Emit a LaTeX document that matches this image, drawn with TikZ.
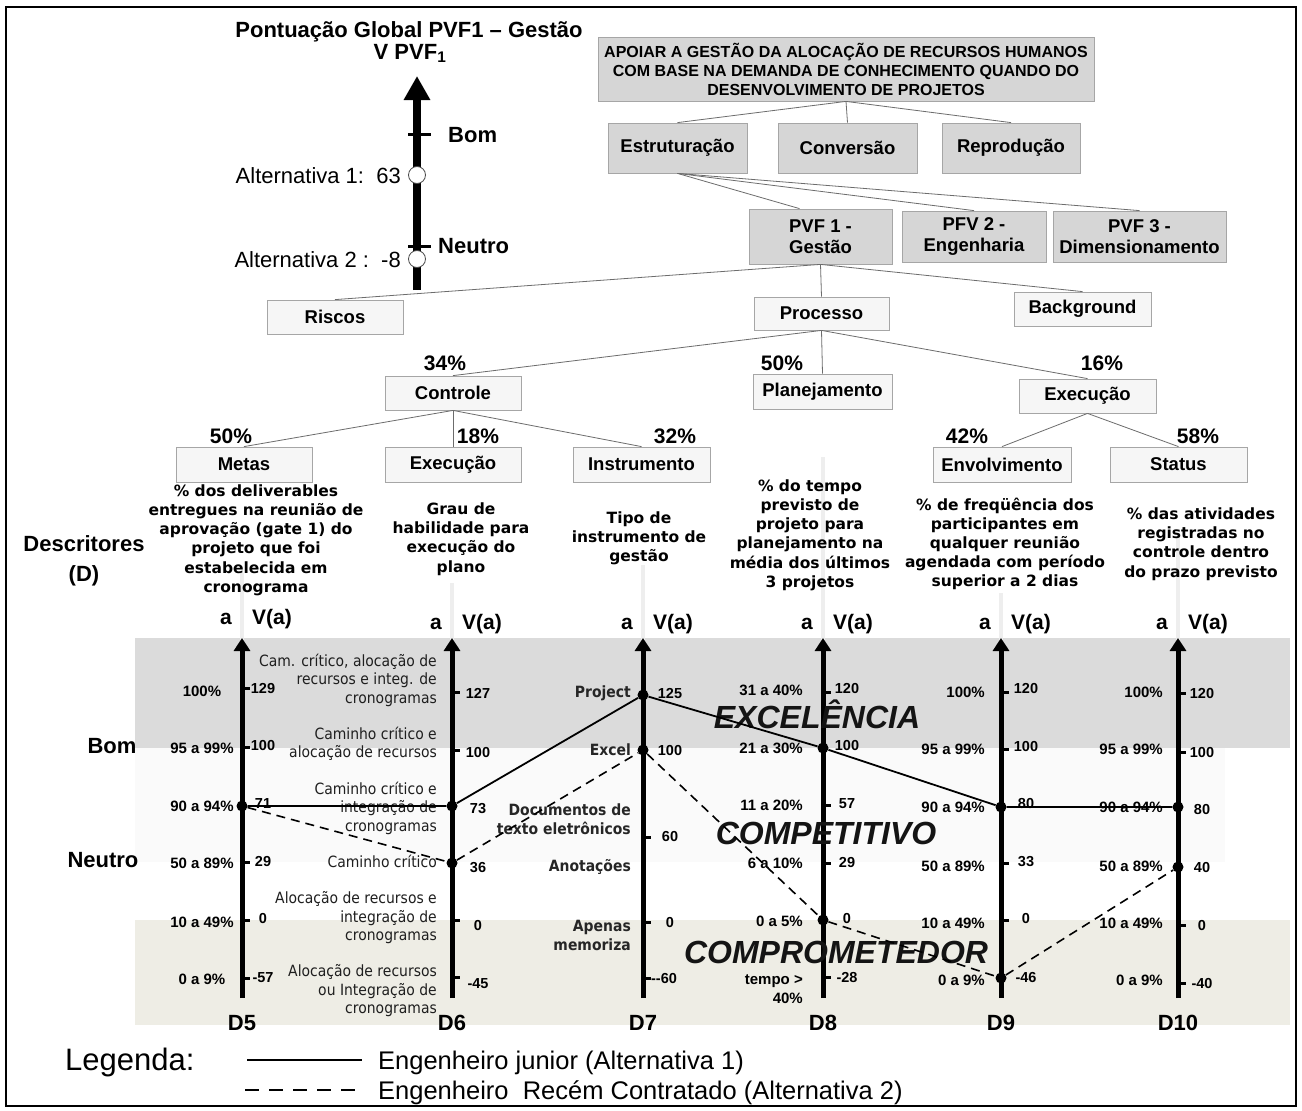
\documentclass[tikz,border=0pt]{standalone}
\usepackage{fontspec}
\setmainfont{Liberation Sans}
\newfontfamily\tah{DejaVu Sans}
\newfontfamily\tahc[FakeStretch=0.9]{DejaVu Sans}
\usetikzlibrary{arrows.meta,calc}
\newcommand\fsz[2]{\fontsize{#1}{#2}\selectfont}
\definecolor{beige}{RGB}{238,237,229}
\begin{document}
\begin{tikzpicture}[x=1pt,y=-1pt]
\tikzset{
  every node/.style={inner sep=0pt},
  gbox/.style={draw=gray!70, fill=gray!32, line width=0.8pt, align=center, font=\fsz{18.5}{21}\bfseries},
  lbox/.style={draw=gray!70, fill=gray!7, line width=0.8pt, align=center, font=\fsz{18.5}{21}\bfseries},
  tline/.style={draw=gray!85!black, line width=0.8pt},
  pct/.style={anchor=base, font=\fsz{21}{24}\bfseries},
  lvl/.style={anchor=base, font=\fsz{15}{18}\bfseries},
  lvlr/.style={anchor=base east, font=\fsz{15}{18}\bfseries},
  val/.style={anchor=base, font=\fsz{14.5}{17}\bfseries},
  desc/.style={anchor=east, align=right, font=\tahc\fsz{15.5}{18.5}, text=black!88},
  descs/.style={anchor=base east, font=\tahc\fsz{15.5}{18.5}, text=black!88},
  descb/.style={anchor=east, align=right, font=\tahc\fsz{15.5}{19}\bfseries, text=black!85},
  descbs/.style={anchor=base east, font=\tahc\fsz{15.5}{19}\bfseries, text=black!85},
  dtext/.style={align=center, font=\tah\fsz{15.5}{19.2}\bfseries},
  axisline/.style={line width=5pt, -{Triangle[width=16pt,length=13pt]}},
  tickmark/.style={line width=3pt},
  faint/.style={draw=gray!13, line width=4pt},
  dot/.style={circle, fill=black, minimum size=11pt},
  altone/.style={line width=1.8pt},
  alttwo/.style={line width=1.6pt, dash pattern=on 9pt off 6pt},
  big/.style={anchor=base, font=\fsz{32}{36}\bfseries\itshape, text=black!92},
  lab/.style={anchor=base, font=\fsz{22}{26}\bfseries},
}
\useasboundingbox (0,0) rectangle (1302,1111);
\fill[white] (0,0) rectangle (1302,1111);
\draw[line width=2.5pt] (6,7) rectangle (1296,1106);

% ---------- bands ----------
\fill[gray!28] (135,638) rectangle (1290,748);
\fill[gray!4] (135,748) rectangle (1225,862);
\fill[beige] (135,920) rectangle (1290,1025);

% ---------- global scale ----------
\node[lab] (title) at (409,37) {Pontuação Global PVF1 – Gestão};
\node[lab] (vpvf) at (410,59) {V PVF\textsubscript{1}};
\coordinate (gbot) at (417,290);
\coordinate (gtop) at (417,76);
\draw[line width=8.4pt, -{Triangle[width=25pt,length=24pt]}] (gbot) -- (gtop);
\draw[line width=3pt] (408,134) -- (431,134);
\draw[line width=3pt] (408,246) -- (431,246);
\node[lab, anchor=base west] (gbom) at (448,142) {Bom};
\node[lab, anchor=base west] (gneu) at (438,253) {Neutro};
\node[circle, draw=gray!60!black, fill=white, line width=0.8pt, minimum size=17pt] (alt1c) at (417,175) {};
\node[circle, draw=gray!60!black, fill=white, line width=0.8pt, minimum size=17pt] (alt2c) at (417,259) {};
\node[anchor=base east, font=\fsz{22}{26}] (alt1t) at (401,183) {Alternativa 1:\ \ 63};
\node[anchor=base east, font=\fsz{22}{26}] (alt2t) at (401,267) {Alternativa 2 :\ \ -8};

% ---------- tree ----------
\node[gbox, minimum width=496pt, minimum height=64pt, font=\fsz{16}{19}\bfseries] (apoiar) at (846,69)
  {APOIAR A GESTÃO DA ALOCAÇÃO DE RECURSOS HUMANOS\\COM BASE NA DEMANDA DE CONHECIMENTO QUANDO DO\\DESENVOLVIMENTO DE PROJETOS};
\node[gbox, minimum width=139pt, minimum height=50pt] (estr) at (677.5,148) {Estruturação};
\node[gbox, minimum width=139pt, minimum height=50pt] (conv) at (847.5,148) {Conversão};
\node[gbox, minimum width=138pt, minimum height=50pt] (repr) at (1011,148) {Reprodução};
\node[gbox, minimum width=143pt, minimum height=55pt] (pvf1) at (820.5,236.5) {PVF 1 -\\Gestão};
\node[gbox, minimum width=144pt, minimum height=51pt] (pvf2) at (974,236.5) {PFV 2 -\\Engenharia};
\node[gbox, minimum width=173pt, minimum height=51pt] (pvf3) at (1139.5,236.5) {PVF 3 -\\Dimensionamento};
\node[lbox, minimum width=136pt, minimum height=34pt] (riscos) at (335,317) {Riscos};
\node[lbox, minimum width=135pt, minimum height=33pt] (proc) at (821.5,313.5) {Processo};
\node[lbox, minimum width=137pt, minimum height=34pt] (back) at (1082.5,309) {Background};
\node[lbox, minimum width=136pt, minimum height=34pt] (ctrl) at (453,393) {Controle};
\node[lbox, minimum width=139pt, minimum height=35pt] (plan) at (822.5,391.5) {Planejamento};
\node[lbox, minimum width=137pt, minimum height=34pt] (exec) at (1087.5,396) {Execução};
\node[lbox, minimum width=136pt, minimum height=35pt] (metas) at (244,464.5) {Metas};
\node[lbox, minimum width=136pt, minimum height=35pt] (execb) at (453,464.5) {Execução};
\node[lbox, minimum width=137pt, minimum height=35pt] (instr) at (641.5,464.5) {Instrumento};
\node[lbox, minimum width=138pt, minimum height=35pt] (envol) at (1002,464.5) {Envolvimento};
\node[lbox, minimum width=137pt, minimum height=35pt] (status) at (1178.5,464.5) {Status};

\draw[tline] (apoiar.south) -- (estr.north);
\draw[tline] (apoiar.south) -- (conv.north);
\draw[tline] (apoiar.south) -- (repr.north);
\draw[tline] (estr.south) -- ($(pvf1.north)+(-21,0)$);
\draw[tline] (estr.south) -- (pvf2.north);
\draw[tline] (estr.south) -- (pvf3.north);
\draw[tline] (pvf1.south) -- (riscos.north);
\draw[tline] (pvf1.south) -- (proc.north);
\draw[tline] (pvf1.south) -- (back.north);
\draw[tline] (proc.south) -- (ctrl.north);
\draw[tline] (proc.south) -- (plan.north);
\draw[tline] (proc.south) -- (exec.north);
\draw[tline] (ctrl.south) -- (metas.north);
\draw[tline] (ctrl.south) -- (execb.north);
\draw[tline] (ctrl.south) -- (instr.north);
\draw[tline] (exec.south) -- (envol.north);
\draw[tline] (exec.south) -- (status.north);

\node[pct] (p34) at (445,370.5) {34\%};
\node[pct] (p50a) at (782,370.5) {50\%};
\node[pct] (p16) at (1102,370.5) {16\%};
\node[pct] (p50b) at (231,443.5) {50\%};
\node[pct] (p18) at (478,443.5) {18\%};
\node[pct] (p32) at (675,443.5) {32\%};
\node[pct] (p42) at (967,443.5) {42\%};
\node[pct] (p58) at (1198,443.5) {58\%};

% ---------- faint axis extensions ----------
\draw[faint] (242,573) -- (242,640);
\draw[faint] (452,583) -- (452,640);
\draw[faint] (643,565) -- (643,640);
\draw[faint] (823,457) -- (823,640);
\draw[faint] (1001,593) -- (1001,640);
\draw[faint] (1178,537) -- (1178,640);

% ---------- descriptors ----------
\node[lab, anchor=base] (descr) at (84,551) {Descritores};
\node[lab, anchor=base] (descd) at (84,581) {(D)};
\node[dtext] (t5) at (256,540) {\% dos deliverables\\entregues na reunião de\\aprovação (gate 1) do\\projeto que foi\\estabelecida em\\cronograma};
\node[dtext] (t6) at (461,539) {Grau de\\habilidade para\\execução do\\plano};
\node[dtext] (t7) at (639,538) {Tipo de\\instrumento de\\gestão};
\node[dtext] (t8) at (810,535) {\% do tempo\\previsto de\\projeto para\\planejamento na\\média dos últimos\\3 projetos};
\node[dtext] (t9) at (1005,544) {\% de freqüência dos\\participantes em\\qualquer reunião\\agendada com período\\superior a 2 dias};
\node[dtext] (t10) at (1201,544) {\% das atividades\\registradas no\\controle dentro\\do prazo previsto};

\foreach \n/\x/\yb in {5/242/624, 6/452/629, 7/643/629, 8/823/629, 9/1001/629, 10/1178/629}{
  \node[anchor=base, font=\fsz{21}{24}\bfseries] (a\n) at (\x-16,\yb) {a};
  \node[anchor=base, font=\fsz{21}{24}\bfseries] (va\n) at (\x+30,\yb) {V(a)};
  \draw[axisline] (\x,998) -- (\x,638);
  \node[lab] (dl\n) at (\x,1030) {D\n};
}

% ---------- left side labels ----------
\node[lab] (bom) at (112,753) {Bom};
\node[lab] (neutro) at (103,867) {Neutro};

% ---------- D5 ----------
\foreach \i/\y/\a in {1/691/100\%, 2/748/95 a 99\%, 3/806/90 a 94\%, 4/863/50 a 89\%, 5/922/10 a 49\%, 6/979/0 a 9\%}{
  \node[lvl] (d5a\i) at (202,\y+5.4) {\a};
}
\foreach \y in {688,747,862,920,978}{ \draw[tickmark] (242,\y) -- (250,\y); }
\foreach \i/\y/\v in {1/688/129, 2/745/100, 3/803/71, 4/861/29, 5/918/0, 6/977/-57}{
  \node[val] (d5v\i) at (263,\y+5.2) {\v};
}

% ---------- D6 ----------
\foreach \y in {692,750,920,977}{ \draw[tickmark] (452,\y) -- (460,\y); }
\foreach \i/\y/\v in {1/693/127, 2/752/100, 3/808/73, 4/867/36, 5/925/0, 6/983/-45}{
  \node[val] (d6v\i) at (478,\y+5.2) {\v};
}
\node[desc] (d6d1) at (437,680) {Cam. crítico, alocação de\\recursos e integ. de\\cronogramas};
\node[desc] (d6d2) at (437,744) {Caminho crítico e\\alocação de recursos};
\node[desc] (d6d3) at (437,808) {Caminho crítico e\\integração de\\cronogramas};
\node[descs] (d6d4) at (437,867) {Caminho crítico};
\node[desc] (d6d5) at (437,918) {Alocação de recursos e\\integração de\\cronogramas};
\node[desc] (d6d6) at (437,991) {Alocação de recursos\\ou Integração de\\cronogramas};

% ---------- D7 ----------
\foreach \y in {837,922,978}{ \draw[tickmark] (643,\y) -- (651,\y); }
\foreach \i/\y/\v/\x in {1/693/125/670, 2/750/100/670, 3/836/60/670, 4/922/0/670, 5/978/{-}{-}60/664}{
  \node[val] (d7v\i) at (\x,\y+5.2) {\v};
}
\node[descbs] (d7d1) at (631,697.5) {Project};
\node[descbs] (d7d2) at (631,755.5) {Excel};
\node[descb] (d7d3) at (631,819) {Documentos de\\texto eletrônicos};
\node[descbs] (d7d4) at (631,871.5) {Anotações};
\node[descb] (d7d5) at (631,935) {Apenas\\memoriza};

% ---------- D8 ----------
\foreach \y in {692,805,863,977}{ \draw[tickmark] (823,\y) -- (831,\y); }
\foreach \i/\y/\v in {1/688/120, 2/745/100, 3/803/57, 4/862/29, 5/918/0, 6/977/-28}{
  \node[val] (d8v\i) at (847,\y+5.2) {\v};
}
\foreach \i/\y/\a in {1/690/31 a 40\%, 2/748/21 a 30\%, 3/805/11 a 20\%, 4/863/6 a 10\%, 5/921/0 a 5\%, 6/979/tempo >, 7/998/40\%}{
  \node[lvlr] (d8a\i) at (803,\y+5.4) {\a};
}

% ---------- D9 ----------
\foreach \y in {692,749,863,920}{ \draw[tickmark] (1001,\y) -- (1009,\y); }
\foreach \i/\y/\v in {1/688/120, 2/746/100, 3/803/80, 4/861/33, 5/918/0, 6/977/-46}{
  \node[val] (d9v\i) at (1026,\y+5.2) {\v};
}
\foreach \i/\y/\a in {1/692/100\%, 2/749/95 a 99\%, 3/807/90 a 94\%, 4/866/50 a 89\%, 5/923/10 a 49\%, 6/980/0 a 9\%}{
  \node[lvlr] (d9a\i) at (985,\y+5.4) {\a};
}

% ---------- D10 ----------
\foreach \y in {693,752,925,983}{ \draw[tickmark] (1178,\y) -- (1186,\y); }
\foreach \i/\y/\v in {1/693/120, 2/752/100, 3/809/80, 4/867/40, 5/925/0, 6/983/-40}{
  \node[val] (d10v\i) at (1202,\y+5.2) {\v};
}
\foreach \i/\y/\a in {1/692/100\%, 2/749/95 a 99\%, 3/807/90 a 94\%, 4/866/50 a 89\%, 5/923/10 a 49\%, 6/980/0 a 9\%}{
  \node[lvlr] (d10a\i) at (1163,\y+5.4) {\a};
}

% ---------- zone words ----------
\node[big] (exc) at (817,728.5) {EXCELÊNCIA};
\node[big] (comp) at (826,844.5) {COMPETITIVO};
\node[big] (cmt) at (836,963.5) {COMPROMETEDOR};

% ---------- alternatives ----------
\node[dot] (q5) at (242,806) {};
\node[dot] (q6a) at (452,806) {};
\node[dot] (q7a) at (643,695) {};
\node[dot] (q8a) at (823,748) {};
\node[dot] (q9a) at (1001,807) {};
\node[dot] (q10a) at (1178,807) {};
\node[dot] (q6b) at (452,863) {};
\node[dot] (q7b) at (643,750) {};
\node[dot] (q8b) at (823,920) {};
\node[dot] (q9b) at (1001,978) {};
\node[dot] (q10b) at (1178,867) {};
\draw[altone] (q5) -- (q6a) -- (q7a) -- (q8a) -- (q9a) -- (q10a);
\draw[alttwo] (q5) -- (q6b) -- (q7b) -- (q8b) -- (q9b) -- (q10b);

% ---------- legend ----------
\node[anchor=base west, font=\fsz{31}{35}] (leg) at (65,1070) {Legenda:};
\coordinate (la1) at (247,1060);
\coordinate (la2) at (362,1060);
\coordinate (lb1) at (245,1090);
\coordinate (lb2) at (362,1090);
\draw[line width=2.8pt] (la1) -- (la2);
\draw[line width=2.8pt, dash pattern=on 14pt off 10pt] (lb1) -- (lb2);
\node[anchor=base west, font=\fsz{25.5}{29}] (leg1) at (378,1069) {Engenheiro junior (Alternativa 1)};
\node[anchor=base west, font=\fsz{25.5}{29}] (leg2) at (378,1099) {Engenheiro\ \ Recém Contratado (Alternativa 2)};
\end{tikzpicture}
\end{document}
